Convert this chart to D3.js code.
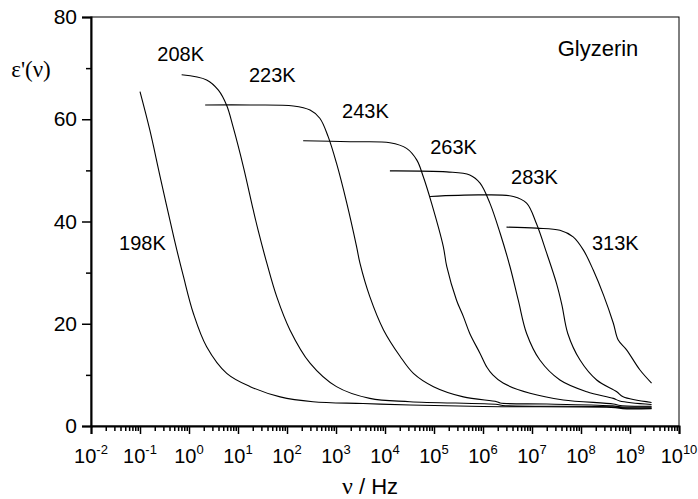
<!DOCTYPE html>
<html>
<head>
<meta charset="utf-8">
<script src="https://cdn.jsdelivr.net/npm/d3@7"></script>
<style>
  body { margin: 0; background: #fff; }
  text { font-family: Arial, "Liberation Sans", sans-serif; fill: #000; }
</style>
</head>
<body>
<div id="chart"></div>
<script>
// log10(frequency / Hz) and eps', one pair per temperature
const logf198 = [-1.0, -0.8, -0.59, -0.3, -0.12, 0.09, 0.36, 0.77, 1.25, 1.86, 2.53, 3.55, 4.51, 6.0, 8.7, 8.85, 9.44];
const eps198  = [65.4, 57.9, 48.8, 36.5, 29.5, 22.0, 15.5, 10.3, 7.7, 5.7, 4.75, 4.4, 4.1, 3.8, 3.6, 3.4, 3.4];

const logf208 = [-0.15, 0.36, 0.6, 0.77, 0.9, 1.11, 1.31, 1.41, 1.59, 1.79, 2.06, 2.47, 3.01, 3.69, 4.51, 6.3, 6.4, 8.7, 8.85, 9.44];
const eps208  = [68.7, 67.7, 65.7, 62.7, 58.5, 50.7, 42.3, 38.3, 31.8, 25.3, 18.8, 12.3, 7.7, 5.4, 4.75, 4.2, 4.0, 3.75, 3.55, 3.5];

const logf223 = [0.33, 1.25, 2.13, 2.47, 2.67, 2.84, 3.01, 3.22, 3.42, 3.49, 3.69, 3.97, 4.31, 4.58, 4.99, 5.6, 6.28, 6.35, 7.3, 8.65, 8.8, 9.44];
const eps223  = [62.8, 62.8, 62.6, 61.8, 60.2, 56.6, 51.4, 43.6, 35.1, 31.8, 25.3, 18.8, 13.6, 10.3, 7.7, 5.7, 4.75, 4.5, 4.3, 3.95, 3.75, 3.7];

const logf243 = [2.33, 3.29, 4.1, 4.44, 4.65, 4.78, 4.95, 5.19, 5.26, 5.46, 5.6, 5.73, 5.94, 6.08, 6.2, 6.41, 6.96, 7.64, 8.66, 8.8, 9.44];
const eps243  = [55.8, 55.6, 55.4, 54.3, 52.0, 48.8, 43.6, 35.1, 31.2, 24.6, 21.4, 18.1, 14.2, 11.5, 10.0, 8.4, 6.4, 5.1, 4.3, 4.0, 3.85];

const logf263 = [4.1, 5.26, 5.73, 5.94, 6.14, 6.35, 6.55, 6.72, 6.89, 7.16, 7.57, 8.12, 8.66, 8.79, 9.44];
const eps263  = [49.9, 49.7, 49.1, 47.5, 43.6, 37.7, 31.2, 24.6, 18.1, 12.9, 9.0, 6.7, 5.4, 4.9, 4.2];

const logf283 = [4.92, 5.94, 6.62, 6.89, 7.09, 7.3, 7.5, 7.61, 7.73, 7.98, 8.32, 8.73, 8.86, 9.44];
const eps283  = [44.9, 45.2, 44.9, 43.6, 39.6, 33.8, 27.9, 23.7, 18.1, 12.9, 9.0, 6.7, 5.7, 4.6];

const logf313 = [6.48, 7.09, 7.57, 7.84, 8.05, 8.25, 8.46, 8.66, 8.76, 8.93, 9.2, 9.44];
const eps313  = [38.9, 38.7, 38.3, 37.0, 34.4, 30.5, 25.6, 20.1, 16.8, 14.9, 11.0, 8.4];

const temps = ["198K", "208K", "223K", "243K", "263K", "283K", "313K"];
const seriesLogF = [logf198, logf208, logf223, logf243, logf263, logf283, logf313];
const seriesEps  = [eps198, eps208, eps223, eps243, eps263, eps283, eps313];

// where each temperature label sits (log10 f, eps')
const labelLogF = [-0.95, -0.17, 1.7, 3.6, 5.4, 7.05, 8.7];
const labelEps  = [34.4, 71.3, 67.2, 60.2, 53.3, 47.4, 34.4];

const yMajor = [0, 20, 40, 60, 80];
const yMinor = [10, 30, 50, 70];
const xExponents = d3.range(-2, 11);

const svgWidth = 698, svgHeight = 499;
const margin = { top: 17, right: 19, bottom: 73, left: 91 };
const width = svgWidth - margin.left - margin.right;
const height = svgHeight - margin.top - margin.bottom;

const svg = d3.select("#chart").append("svg")
  .attr("width", svgWidth)
  .attr("height", svgHeight);

const g = svg.append("g")
  .attr("transform", "translate(" + margin.left + "," + margin.top + ")");

const x = d3.scaleLog().domain([1e-2, 1e10]).range([0, width]);
const y = d3.scaleLinear().domain([0, 80]).range([height, 0]);

// frame
g.append("rect")
  .attr("width", width).attr("height", height)
  .attr("fill", "none").attr("stroke", "#000").attr("stroke-width", 1);

//////////
// AXES //
//////////

const xMinor = [];
xExponents.slice(0, -1).forEach(function (e) {
  for (let k = 2; k <= 9; k++) xMinor.push(k * Math.pow(10, e));
});

g.append("g")
  .attr("transform", "translate(0," + height + ")")
  .call(d3.axisBottom(x).tickValues(xMinor).tickSize(5).tickFormat(""))
  .call(a => a.select(".domain").remove())
  .selectAll("line").attr("stroke-width", 1.5);

const xAxis = g.append("g")
  .attr("transform", "translate(0," + height + ")")
  .call(d3.axisBottom(x).tickValues(xExponents.map(e => Math.pow(10, e))).tickSize(8).tickFormat(""));
xAxis.select(".domain").attr("stroke-width", 2);
xAxis.selectAll("line").attr("stroke-width", 1.5);

// 10^n labels with raised exponent
xExponents.forEach(function (e) {
  const t = g.append("text")
    .attr("x", x(Math.pow(10, e)))
    .attr("y", height + 37)
    .attr("text-anchor", "middle")
    .style("font-size", "20px");
  t.append("tspan").text("10");
  t.append("tspan").attr("dy", -9).style("font-size", "13px").text(String(e));
});

g.append("g")
  .call(d3.axisLeft(y).tickValues(yMinor).tickSize(5).tickFormat(""))
  .call(a => a.select(".domain").remove())
  .selectAll("line").attr("stroke-width", 1.5);

const yAxis = g.append("g")
  .call(d3.axisLeft(y).tickValues(yMajor).tickSize(9).tickPadding(5));
yAxis.select(".domain").attr("stroke-width", 2);
yAxis.selectAll("line").attr("stroke-width", 1.5);
yAxis.selectAll("text")
  .style("font-family", "Arial, 'Liberation Sans', sans-serif")
  .style("font-size", "21px");

// axis titles
svg.append("text")
  .attr("x", 31).attr("y", 77)
  .attr("text-anchor", "middle")
  .style("font-family", "'Liberation Serif', 'Times New Roman', serif")
  .style("font-size", "23px")
  .text("ε'(ν)");

const xt = svg.append("text")
  .attr("x", margin.left + width / 2 - 15).attr("y", 494)
  .attr("text-anchor", "middle")
  .style("font-size", "22px");
xt.append("tspan").style("font-family", "'Liberation Serif', 'Times New Roman', serif").style("font-size", "24px").text("ν");
xt.append("tspan").text(" / Hz");

////////////
// CURVES //
////////////

const line = d3.line()
  .x(d => x(Math.pow(10, d[0])))
  .y(d => y(d[1]))
  .curve(d3.curveCatmullRom.alpha(0.5));

seriesLogF.forEach(function (lf, i) {
  const pts = lf.map((v, j) => [v, seriesEps[i][j]]);
  g.append("path")
    .datum(pts)
    .attr("fill", "none")
    .attr("stroke", "#000")
    .attr("stroke-width", 1.1)
    .attr("d", line);
});

g.selectAll(".temp-label")
  .data(temps)
  .enter().append("text")
  .attr("class", "temp-label")
  .attr("x", (d, i) => x(Math.pow(10, labelLogF[i])))
  .attr("y", (d, i) => y(labelEps[i]))
  .attr("text-anchor", "middle")
  .style("font-size", "20px")
  .text(d => d);

svg.append("text")
  .attr("x", 598).attr("y", 56)
  .attr("text-anchor", "middle")
  .style("font-size", "22px")
  .text("Glyzerin");
</script>
</body>
</html>
